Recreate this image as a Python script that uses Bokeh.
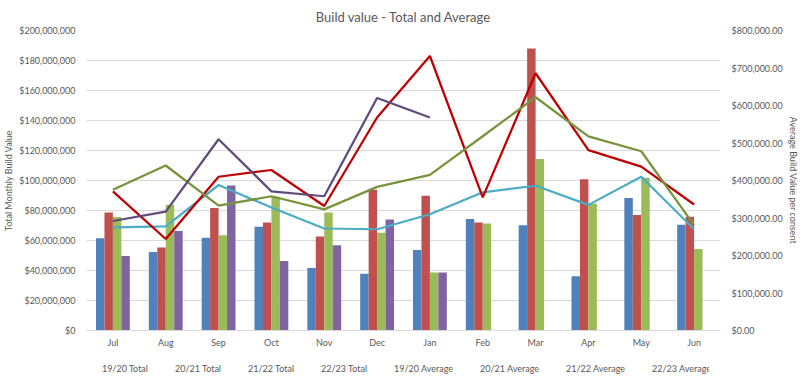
from bokeh.plotting import figure
from bokeh.layouts import column
from bokeh.models import (FactorRange, Range1d, LinearAxis, NumeralTickFormatter,
                          Legend, LegendItem, ColumnDataSource, SingleIntervalTicker)
from bokeh.transform import dodge
from bokeh.embed import file_html
from bokeh.resources import INLINE

months = ["Jul", "Aug", "Sep", "Oct", "Nov", "Dec", "Jan", "Feb", "Mar", "Apr", "May", "Jun"]

total_1920 = [61.5e6, 52.3e6, 61.9e6, 69.1e6, 41.6e6, 37.9e6, 53.6e6, 74.4e6, 70.2e6, 36.1e6, 88.4e6, 70.5e6]
total_2021 = [78.6e6, 55.4e6, 81.6e6, 72.0e6, 62.6e6, 93.9e6, 89.9e6, 72.0e6, 188.0e6, 100.9e6, 77.0e6, 75.9e6]
total_2122 = [75.7e6, 83.8e6, 63.5e6, 89.1e6, 78.6e6, 65.2e6, 38.7e6, 71.3e6, 114.3e6, 84.7e6, 101.8e6, 54.3e6]
total_2223 = [49.7e6, 66.3e6, 96.7e6, 46.4e6, 56.9e6, 74.0e6, 38.7e6]

avg_1920 = [275e3, 277.5e3, 388e3, 328e3, 272e3, 270e3, 310e3, 368.5e3, 386e3, 335e3, 410e3, 270e3]
avg_2021 = [371e3, 244e3, 410e3, 428e3, 332e3, 568e3, 732e3, 355e3, 686e3, 481e3, 437e3, 336e3]
avg_2122 = [375.5e3, 440e3, 333e3, 358e3, 323e3, 383e3, 415e3, 518e3, 622e3, 517.5e3, 478e3, 281e3]
avg_2223 = [292e3, 317e3, 510e3, 371e3, 358e3, 620e3, 568e3]

title_text = "Build value - Total and Average"
left_title = "Total Monthly Build Value"
right_title = "Average Build Value per consent"

FONT = "Lato"
GREY = "#595959"

p = figure(x_range=FactorRange(*months), y_range=Range1d(0, 200e6),
           frame_width=634, frame_height=300, output_backend="svg", toolbar_location=None,
           min_border_left=0, min_border_right=0, min_border_top=0, min_border_bottom=0)
p.extra_y_ranges = {"avg": Range1d(0, 800e3)}

p.title.text = title_text
p.title.align = "center"
p.title.text_font = FONT
p.title.text_font_size = "13px"
p.title.text_font_style = "normal"
p.title.text_color = GREY
p.title.standoff = 12

# legend-only figure placed under the chart (its frame is aligned with the chart's frame)
lg = figure(width=790, height=24, output_backend="svg", toolbar_location=None,
            x_range=Range1d(0, 1), y_range=Range1d(0, 1),
            x_axis_location=None, y_axis_location=None,
            min_border_left=0, min_border_right=0, min_border_top=0, min_border_bottom=0)
lg.xgrid.visible = False
lg.ygrid.visible = False
lg.outline_line_color = None

bar_specs = [
    ("19/20 Total", total_1920, "#4F81BD", -0.24),
    ("20/21 Total", total_2021, "#C0504D", -0.08),
    ("21/22 Total", total_2122, "#9BBB59", 0.08),
    ("22/23 Total", total_2223, "#8064A2", 0.24),
]
items = []
for label, vals, color, off in bar_specs:
    src = ColumnDataSource(dict(m=months[:len(vals)], v=vals))
    p.vbar(x=dodge("m", off, range=p.x_range), top="v", width=0.16, source=src,
           fill_color=color, line_color=None)
    key = lg.vbar(x=[], top=[], width=0.1, fill_color=color, line_color=None)
    items.append(LegendItem(label=label, renderers=[key]))

line_specs = [
    ("19/20 Average", avg_1920, "#4BACC6"),
    ("20/21 Average", avg_2021, "#C00000"),
    ("21/22 Average", avg_2122, "#77933C"),
    ("22/23 Average", avg_2223, "#604A7B"),
]
for label, vals, color in line_specs:
    p.line(x=months[:len(vals)], y=vals, y_range_name="avg", line_color=color, line_width=2.25)
    key = lg.line(x=[], y=[], line_color=color, line_width=2.25)
    items.append(LegendItem(label=label, renderers=[key]))

p.xgrid.visible = False
p.ygrid.grid_line_color = "#d9d9d9"
p.outline_line_color = None

p.yaxis.ticker = SingleIntervalTicker(interval=20e6)
p.yaxis.formatter = NumeralTickFormatter(format="$0,0")
p.yaxis.axis_label = left_title

right = LinearAxis(y_range_name="avg", ticker=SingleIntervalTicker(interval=100e3),
                   formatter=NumeralTickFormatter(format="$0,0.00"), axis_label=right_title)
p.add_layout(right, "right")

for ax in p.yaxis + p.xaxis:
    ax.major_tick_line_color = None
    ax.minor_tick_line_color = None
    ax.major_tick_out = 0
    ax.major_label_text_font = FONT
    ax.major_label_text_font_size = "9px"
    ax.major_label_text_color = GREY
    ax.major_label_standoff = 7
    ax.axis_label_text_font = FONT
    ax.axis_label_text_font_size = "9px"
    ax.axis_label_text_font_style = "normal"
    ax.axis_label_text_color = GREY
    ax.axis_label_standoff = 2
for ax in p.yaxis:
    ax.axis_line_color = None
p.xaxis.axis_line_color = "#d9d9d9"
p.xaxis.major_label_standoff = 6

legend = Legend(items=items, orientation="horizontal", location="bottom_center",
                label_text_font=FONT, label_text_font_size="9px", label_text_color=GREY,
                glyph_width=16, glyph_height=6, label_height=10, label_width=10,
                spacing=9, padding=0, margin=0,
                label_standoff=2, border_line_color=None, background_fill_alpha=0)
lg.add_layout(legend)

layout = column(p, lg, spacing=0)
open("out.html", "w").write(file_html(layout, INLINE))
